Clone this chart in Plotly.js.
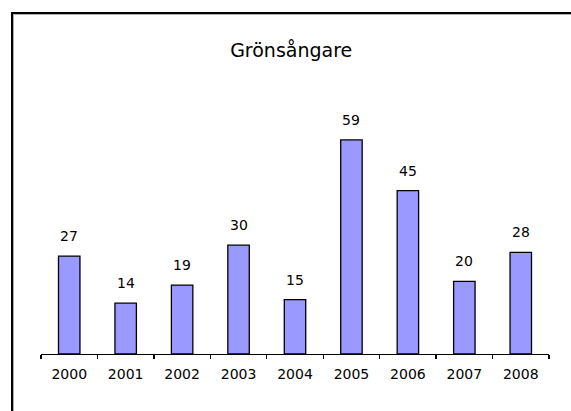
<!DOCTYPE html>
<html>
<head>
<meta charset="utf-8">
<script src="https://cdn.plot.ly/plotly-3.0.1.min.js"></script>
<style>
  html, body { margin: 0; padding: 0; background: #fff; }
  #wrap { position: relative; width: 571px; height: 411px; overflow: hidden; }
  #chart { position: absolute; left: 0; top: 0; width: 571px; height: 411px; }
  #frame { position: absolute; left: 11px; top: 12px; width: 600px; height: 450px;
           border-left: 2px solid #000; border-top: 2px solid #000; pointer-events: none; }
  #frame2 { position: absolute; left: 13px; top: 14px; width: 600px; height: 450px;
           border-left: 1px solid #b0b0b0; border-top: 1px solid #b0b0b0; pointer-events: none; }
</style>
</head>
<body>
<div id="wrap">
  <div id="chart"></div>
  <div id="frame"></div>
  <div id="frame2"></div>
</div>
<script>
const chartTitle = "Grönsångare";
const years = ["2000", "2001", "2002", "2003", "2004", "2005", "2006", "2007", "2008"];
const counts = [27, 14, 19, 30, 15, 59, 45, 20, 28];

const font = "DejaVu Sans, Verdana, sans-serif";

const trace = {
  type: "bar",
  x: years,
  y: counts,
  marker: { color: "#9999FF", line: { color: "#000", width: 1.3 } },
  hoverinfo: "x+y"
};

const annotations = years.map((yr, i) => ({
  x: i, y: counts[i], xref: "x", yref: "y",
  text: String(counts[i]), showarrow: false,
  yanchor: "bottom", yshift: 10,
  font: { family: font, size: 14, color: "#000" }
}));

const layout = {
  width: 571, height: 411,
  margin: { l: 41, r: 22, t: 100, b: 57 },
  paper_bgcolor: "#fff", plot_bgcolor: "#fff",
  showlegend: false,
  bargap: 0.62,
  title: { text: chartTitle, x: 0.51, xanchor: "center", y: 0.878, yanchor: "middle",
           font: { family: font, size: 19, color: "#000" } },
  xaxis: {
    type: "category",
    range: [-0.5, years.length - 0.5], autorange: false,
    showline: true, linecolor: "#000", linewidth: 1.3,
    ticks: "outside", tickson: "boundaries", ticklen: 4, tickcolor: "#000", tickwidth: 1.3,
    tickangle: 0,
    showgrid: false, zeroline: false,
    tickfont: { family: font, size: 14, color: "#000" },
    ticklabelstandoff: 7
  },
  yaxis: { range: [0, 70], autorange: false, visible: false, showgrid: false, zeroline: false },
  annotations: annotations
};

Plotly.newPlot("chart", [trace], layout, { displayModeBar: false, staticPlot: true });
</script>
</body>
</html>
